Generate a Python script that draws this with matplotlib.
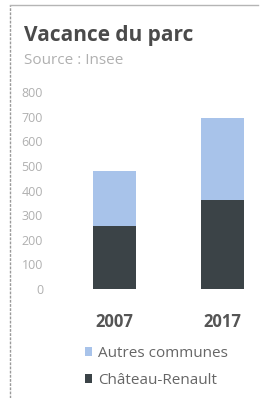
import matplotlib
matplotlib.use('Agg')
import matplotlib.pyplot as plt
from matplotlib.patches import Patch
from matplotlib.lines import Line2D

# données
annees = ['2007', '2017']
chateau_renault = [256, 362]
autres_communes = [224, 333]
yticks = [0, 100, 200, 300, 400, 500, 600, 700, 800]

col_dark = '#3b4347'
col_light = '#a8c3ea'

plt.rcParams['font.family'] = ['Open Sans', 'DejaVu Sans']

W, H = 265, 398
fig = plt.figure(figsize=(W / 100, H / 100), dpi=100)

# cadre gris (haut + gauche)
fig.add_artist(Line2D([10 / W, 10 / W], [0, 1 - 5 / H], color='#9a9a9a', lw=1, ls=(0, (2, 1))))
fig.add_artist(Line2D([10 / W, 258 / W], [1 - 5 / H, 1 - 5 / H], color='#b5b5b5', lw=1))

fig.text(24 / W, 1 - 35 / H, 'Vacance du parc', fontsize=15, fontweight='bold',
         color='#4a4a4a', va='center', ha='left')
fig.text(24 / W, 1 - 61 / H, 'Source : Insee', fontsize=11, color='#b0b0b0',
         va='center', ha='left')

ax = fig.add_axes([50 / W, (H - 289) / H, 215 / W, (289 - 92) / H])
x = range(len(annees))
ax.bar(x, chateau_renault, width=0.4, color=col_dark, label='Château-Renault')
ax.bar(x, autres_communes, width=0.4, bottom=chateau_renault, color=col_light,
       label='Autres communes')

ax.set_xlim(-0.6, 1.4)
ax.set_ylim(0, 800)
ax.set_yticks(yticks)
ax.set_yticklabels([str(v) for v in yticks])
ax.set_xticks(list(x))
ax.set_xticklabels(annees)
for s in ax.spines.values():
    s.set_visible(False)
ax.tick_params(axis='y', length=0, labelsize=9, labelcolor='#b0b0b0', pad=5)
ax.tick_params(axis='x', length=0, labelsize=12, labelcolor='#555555', pad=17)
for lab in ax.get_xticklabels():
    lab.set_fontweight('bold')

handles = [Patch(facecolor=col_light, label='Autres communes'),
           Patch(facecolor=col_dark, label='Château-Renault')]
fig.legend(handles=handles, loc='center left', bbox_to_anchor=(71 / W, 1 - 367 / H),
           frameon=False, fontsize=11, handlelength=0.5, handleheight=0.5,
           handletextpad=0.4, labelspacing=0.75, labelcolor='#666666')

fig.savefig('out.png', dpi=100)
